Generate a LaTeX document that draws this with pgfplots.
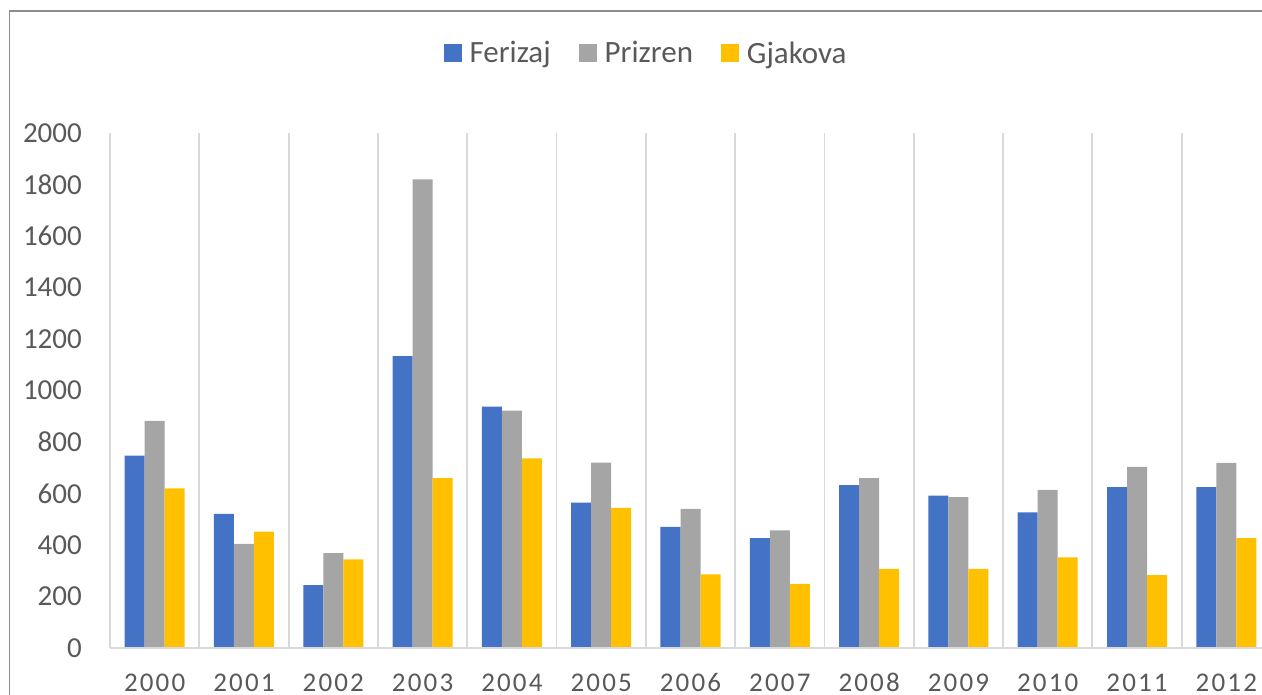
\documentclass[border=0pt]{standalone}
\usepackage{pgfplots}
\pgfplotsset{compat=1.18}
\usepackage{fontspec}
\setmainfont{Carlito}
\newfontfamily\ticksfont[LetterSpace=8]{Carlito}

\definecolor{ferizaj}{HTML}{4472C4}
\definecolor{prizren}{HTML}{A5A5A5}
\definecolor{gjakova}{HTML}{FFC000}
\definecolor{txt}{HTML}{595959}
\definecolor{gridc}{HTML}{D9D9D9}
\definecolor{framec}{HTML}{8C8C8C}

\begin{document}
\begin{tikzpicture}
% chart frame (only the top and left edges are inside the picture)
\draw[framec, line width=1.5bp] (9.5bp,0bp) -- (9.5bp,684bp) -- (1270bp,684bp);
\begin{axis}[
    at={(110bp,47bp)},
    anchor=south west,
    scale only axis,
    width=1161bp,
    height=515bp,
    ybar=0pt,
    bar width=0.224,
    xmin=-0.5, xmax=12.5,
    ymin=0, ymax=2000,
    xtick={0,...,12},
    xticklabels={2000,2001,2002,2003,2004,2005,2006,2007,2008,2009,2010,2011,2012},
    minor xtick={-0.5,0.5,...,12.5},
    xminorgrids,
    minor grid style={gridc, line width=1.8bp},
    ytick={0,200,...,2000},
    major tick length=0pt,
    minor tick length=0pt,
    axis line style={draw=none},
    /pgf/number format/1000 sep={},
    /pgf/number format/assume math mode=true,
    yticklabel style={font=\fontsize{29bp}{32bp}\selectfont, text=txt, anchor=east, inner sep=0pt, xshift=-28bp},
    xticklabel style={font=\ticksfont\fontsize{27bp}{30bp}\selectfont, text=txt, anchor=base, inner sep=0pt, yshift=-43bp},
    legend columns=3,
    legend style={draw=none, fill=none, at={(0.4617,1.1553)}, anchor=center,
        font=\fontsize{31bp}{34bp}\selectfont, text=txt, inner sep=0pt,
        /tikz/every odd column/.append style={column sep=6bp},
        /tikz/every even column/.append style={column sep=26bp}},
    after end axis/.code={
        \draw[gridc, line width=1.8bp] (rel axis cs:0,0) -- (rel axis cs:1,0);
    },
]
\addplot[fill=ferizaj, draw=none,
    legend image code/.code={\fill[ferizaj] (0bp,-9bp) rectangle (18bp,9bp);}]
    coordinates {(0,747) (1,521) (2,244) (3,1133) (4,937) (5,565) (6,470)
                 (7,427) (8,633) (9,592) (10,527) (11,625) (12,625)};
\addplot[fill=prizren, draw=none,
    legend image code/.code={\fill[prizren] (0bp,-9bp) rectangle (18bp,9bp);}]
    coordinates {(0,882) (1,404) (2,368) (3,1820) (4,922) (5,720) (6,540)
                 (7,457) (8,660) (9,586) (10,614) (11,703) (12,719)};
\addplot[fill=gjakova, draw=none,
    legend image code/.code={\fill[gjakova] (0bp,-9bp) rectangle (18bp,9bp);}]
    coordinates {(0,620) (1,452) (2,344) (3,660) (4,736) (5,544) (6,286)
                 (7,249) (8,307) (9,307) (10,352) (11,283) (12,427)};
\legend{Ferizaj,Prizren,Gjakova}
\end{axis}
\pgfresetboundingbox
\useasboundingbox (0bp,0bp) rectangle (1262bp,695bp);
\end{tikzpicture}
\end{document}
